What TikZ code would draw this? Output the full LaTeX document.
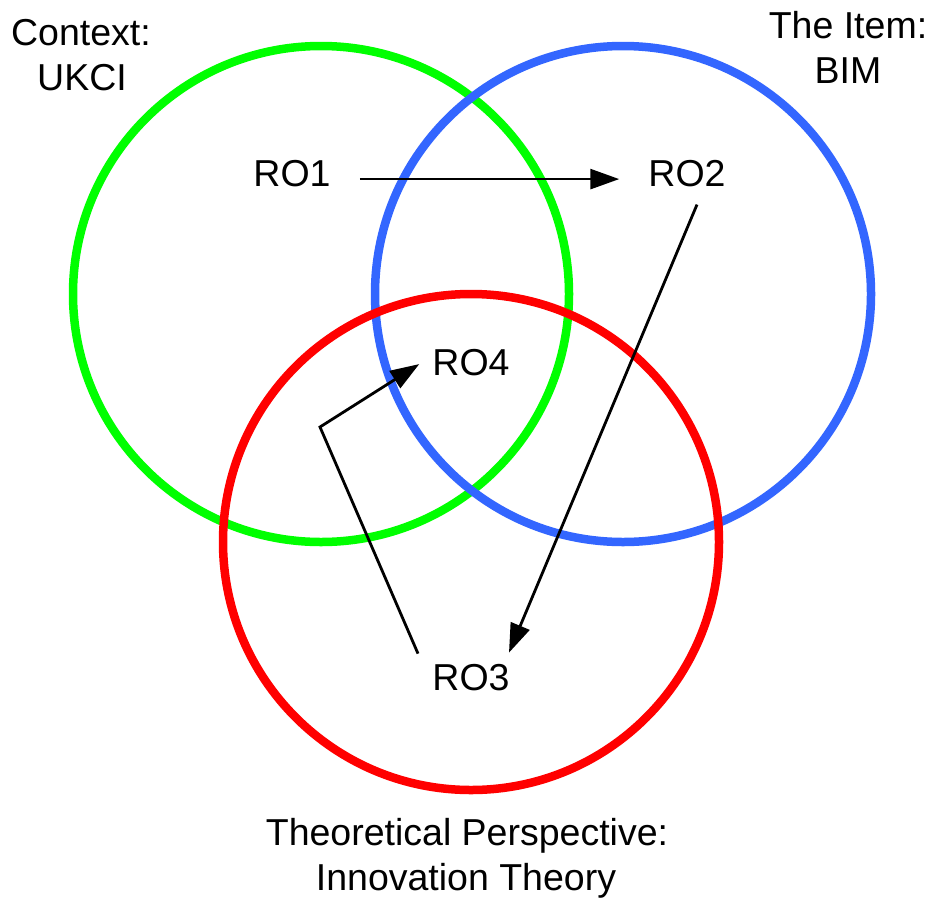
\documentclass[tikz,border=0pt]{standalone}
\usepackage{fontspec}
\setmainfont{Liberation Sans}
\usetikzlibrary{arrows.meta,calc}
\definecolor{ctxgreen}{RGB}{0,255,0}
\definecolor{itemblue}{RGB}{51,102,255}
\definecolor{theoryred}{RGB}{255,0,0}
\begin{document}
\begin{tikzpicture}[x=1pt,y=-1pt,
  ring/.style={line width=8.5pt},
  lbl/.style={font=\fontsize{37.5}{45}\selectfont, inner sep=0pt, anchor=base},
  link/.style={line width=2.8pt, -{Triangle[length=29pt,width=20pt]}},
]
\useasboundingbox (0,0) rectangle (931,897);
\fill[white] (0,0) rectangle (931,897);

% the three sets
\draw[ring, ctxgreen]  (321,294) circle[radius=248];
\draw[ring, itemblue]  (623,294) circle[radius=248];
\draw[ring, theoryred] (471,542) circle[radius=248];

% set captions
\node[lbl] (ctx1) at (81,45) {Context:};
\node[lbl] (ctx2) at (82,90) {UKCI};
\node[lbl] (item1) at (848,38) {The Item:};
\node[lbl] (item2) at (848,83) {BIM};
\node[lbl] (thy1) at (467,845) {Theoretical Perspective:};
\node[lbl] (thy2) at (466,890) {Innovation Theory};

% research objectives
\node[lbl] (ro1) at (292,186) {RO1};
\node[lbl] (ro2) at (687,186) {RO2};
\node[lbl] (ro4) at (471,375) {RO4};
\node[lbl] (ro3) at (471,690) {RO3};

% flow between objectives
\draw[link] ($(ro1.east)+(29,6)$) -- ($(ro2.west)+(-29,6)$);
\draw[link] ($(ro2.south)+(10,18)$) -- ($(ro3.north)+(38,-11)$);
\coordinate (bend) at (320,427);
\draw[link, line join=miter] ($(ro3.north)+(-53,-10)$) -- (bend) -- ($(ro4.west)+(-13,2)$);
\end{tikzpicture}
\end{document}
